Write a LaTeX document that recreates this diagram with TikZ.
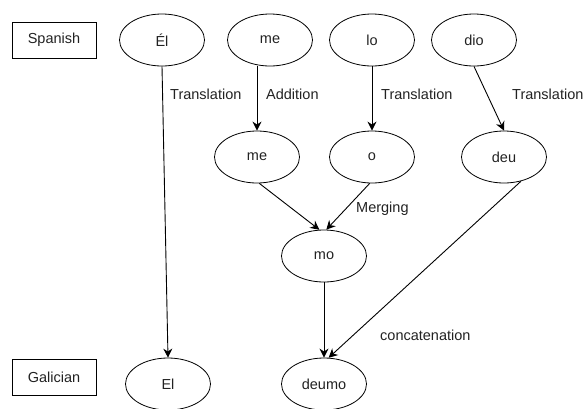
\documentclass[tikz,border=0pt]{standalone}
\usepackage{fontspec}
\setmainfont{Liberation Sans}
\usetikzlibrary{arrows.meta, positioning, shapes.geometric}
\definecolor{ink}{RGB}{34,34,34}

\begin{document}
\begin{tikzpicture}[x=1pt, y=-1pt, font=\fontsize{14.5}{17}\selectfont, text=ink,
  word/.style={draw, ellipse, minimum width=85pt, minimum height=52pt, inner sep=0pt, line width=0.8pt},
  lang/.style={draw, rectangle, minimum width=84pt, minimum height=36pt, line width=0.9pt},
  lbl/.style={anchor=base west, inner sep=0pt},
  p/.style={-{Stealth[length=9pt, width=9pt]}, line width=0.9pt}]
\useasboundingbox (0,0) rectangle (584,408);
% languages
\node[lang] (sp) at (54,40) {Spanish};
\node[lang] (gl) at (54,377) {Galician};
% spanish words
\node[word] (el) at (162,40) {Él};
\node[word] (me) at (270,40) {me};
\node[word] (lo) at (372,40) {lo};
\node[word] (dio) at (474,40) {dio};
% intermediate steps
\node[word] (me2) at (257,157) {me};
\node[word] (o) at (372,157) {o};
\node[word] (deu) at (504,157) {deu};
\node[word] (mo) at (324,256) {mo};
% galician words
\node[word] (elg) at (168,384) {El};
\node[word] (deumo) at (324,384) {deumo};
% arrows
\draw[p] (el.south) -- (elg.north);
\draw[p] (me.south -| me2.north) -- (me2.north);
\draw[p] (lo) -- (o);
\draw[p] (dio.south) -- (deu.north);
\draw[p] (me2.-85) -- (mo.100);
\draw[p] (o.-95) -- (mo.85);
\draw[p] (mo) -- (deumo);
\draw[p] (deu.-55) -- (deumo.80);
% labels
\node[lbl] (t1) at (170,99) {Translation};
\node[lbl] (add) at (266,99) {Addition};
\node[lbl] (t2) at (381,99) {Translation};
\node[lbl] (t3) at (512,99) {Translation};
\node[lbl] (mrg) at (356,212) {Merging};
\node[lbl] (cat) at (380,340) {concatenation};
\end{tikzpicture}
\end{document}
